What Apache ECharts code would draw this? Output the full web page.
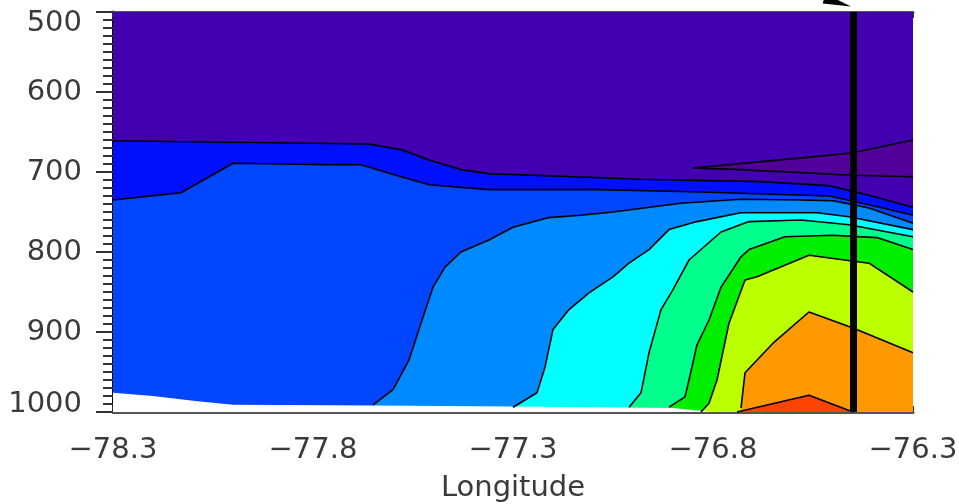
<!DOCTYPE html>
<html>
<head>
<meta charset="UTF-8">
<title>Longitude / pressure section</title>
<script src="https://cdn.jsdelivr.net/npm/echarts@6/dist/echarts.min.js"></script>
<style>
  html, body { margin: 0; padding: 0; background: #fff; }
  #main { width: 959px; height: 504px; }
</style>
</head>
<body>
<div id="main"></div>
<script>
// axes
const lonRange = [-78.3, -76.3];
const presRange = [500, 1000];
const lonTicks = [-78.3, -77.8, -77.3, -76.8, -76.3];
const probeLon = -76.45;

// contour lines as [longitude, pressure]
const c1 = [[-78.3, 661], [-77.66, 665], [-77.58, 672], [-77.51, 685], [-77.43, 697], [-77.36, 702],
  [-76.98, 709], [-76.68, 712], [-76.51, 717], [-76.41, 729], [-76.3, 744]];
const c2 = [[-78.3, 735], [-78.13, 726], [-78.0, 689], [-77.76, 691], [-77.68, 691], [-77.58, 706],
  [-77.51, 716], [-77.36, 722], [-77.08, 722], [-76.83, 725], [-76.51, 730], [-76.41, 741], [-76.3, 754]];
const c3 = [[-77.65, 991], [-77.6, 972], [-77.56, 935], [-77.53, 889], [-77.5, 844], [-77.47, 819],
  [-77.43, 800], [-77.36, 785], [-77.3, 769], [-77.21, 757], [-77.13, 754], [-77.05, 750],
  [-76.88, 739], [-76.73, 734], [-76.58, 735], [-76.5, 736], [-76.41, 745], [-76.3, 764]];
const c4 = [[-77.3, 994], [-77.24, 976], [-77.22, 944], [-77.2, 897], [-77.16, 872], [-77.11, 851],
  [-77.05, 831], [-77.01, 814], [-76.96, 797], [-76.91, 772], [-76.84, 762], [-76.73, 751],
  [-76.54, 751], [-76.46, 756], [-76.3, 772]];
const c5 = [[-77.01, 994], [-76.98, 976], [-76.96, 926], [-76.93, 872], [-76.9, 847], [-76.86, 810],
  [-76.78, 775], [-76.71, 762], [-76.58, 760], [-76.46, 766], [-76.3, 781]];
const c6 = [[-76.91, 994], [-76.87, 981], [-76.86, 960], [-76.84, 916], [-76.81, 885], [-76.78, 844],
  [-76.73, 806], [-76.71, 797], [-76.62, 781], [-76.5, 779], [-76.39, 782], [-76.3, 797]];
const c7 = [[-76.83, 1000], [-76.81, 989], [-76.79, 960], [-76.76, 889], [-76.72, 835], [-76.69, 831],
  [-76.56, 804], [-76.41, 814], [-76.3, 850]];
const c8 = [[-76.73, 995], [-76.72, 951], [-76.65, 914], [-76.56, 875], [-76.45, 895], [-76.3, 926]];
const c9 = [[-76.74, 1000], [-76.56, 979], [-76.45, 1000]];

// small dark tongue near 700 hPa on the right
const wedgeTop = [[-76.85, 695], [-76.57, 682], [-76.45, 676], [-76.3, 660]];
const wedgeBottom = [[-76.85, 695], [-76.73, 697], [-76.45, 704], [-76.3, 706]];

// lower edge of the data (ground), white below it
const surface = [[-78.3, 976], [-78.2, 980], [-78.1, 986], [-78.0, 991], [-77.65, 992], [-77.3, 993],
  [-76.9, 995], [-76.8, 1000], [-76.3, 1000]];

const arrowTail = [-76.56, 478];
const arrowTip = [-76.455, 493];

const bgColor = '#4200b0';
const bandColors = ['#0010ff', '#0046ff', '#008aff', '#00ffff', '#00ff8c', '#00ee00', '#bbff00', '#ff9900', '#ff4400'];
const wedgeColor = '#52009a';

const contours = [c1, c2, c3, c4, c5, c6, c7, c8, c9];

// close a contour against the bottom / side of the frame
function regionOf(line) {
  const pts = line.slice();
  const first = pts[0], last = pts[pts.length - 1];
  if (last[1] < presRange[1]) pts.push([last[0], presRange[1]]);
  if (first[1] < presRange[1]) pts.push([first[0], presRange[1]]);
  return pts;
}

const regions = [];
regions.push({ pts: [[lonRange[0], presRange[0]], [lonRange[1], presRange[0]], [lonRange[1], presRange[1]], [lonRange[0], presRange[1]]], color: bgColor });
contours.forEach(function (c, i) { regions.push({ pts: regionOf(c), color: bandColors[i] }); });
regions.push({ pts: wedgeTop.concat(wedgeBottom.slice(1).reverse()), color: wedgeColor });
regions.push({ pts: regionOf(surface), color: '#ffffff' });

const lineSeries = contours.concat([wedgeTop, wedgeBottom]).map(function (c) {
  return {
    type: 'line', data: c, symbol: 'none', z: 3, silent: true,
    lineStyle: { color: '#000', width: 1.6 }
  };
});
lineSeries[0].markLine = {
  silent: true, symbol: 'none', label: { show: false },
  lineStyle: { color: '#000', width: 7, type: 'solid' },
  data: [{ xAxis: probeLon }]
};

const labelFont = { fontFamily: 'DejaVu Sans', fontSize: 29, color: '#3a3a3a' };

var myChart = echarts.init(document.getElementById('main'));
option = {
  animation: false,
  backgroundColor: '#fff',
  grid: { left: 113, top: 12, width: 800, height: 400, outerBoundsMode: 'none', containLabel: false },
  xAxis: [{
    type: 'value', min: lonRange[0], max: lonRange[1], position: 'bottom',
    name: 'Longitude', nameLocation: 'middle', nameGap: 62,
    nameTextStyle: labelFont,
    axisLine: { show: true, lineStyle: { color: '#555', width: 3 } },
    axisTick: { show: true, inside: true, length: 6, customValues: lonTicks, lineStyle: { color: '#333', width: 2 } },
    axisLabel: Object.assign({ margin: 24, customValues: lonTicks,
      formatter: function (v) { return (v < 0 ? '\u2212' : '') + Math.abs(v).toFixed(1); } }, labelFont),
    splitLine: { show: false }
  }, {
    type: 'value', min: lonRange[0], max: lonRange[1], position: 'top',
    axisLine: { show: true, lineStyle: { color: '#555', width: 3 } },
    axisTick: { show: true, inside: true, length: 6, customValues: lonTicks, lineStyle: { color: '#333', width: 2 } },
    axisLabel: { show: false },
    splitLine: { show: false }
  }],
  yAxis: {
    type: 'value', inverse: true, min: presRange[0], max: presRange[1], interval: 100,
    axisLine: { show: true, lineStyle: { color: '#000', width: 3 } },
    axisTick: { show: true, length: 17, lineStyle: { color: '#333', width: 2 } },
    minorTick: { show: true, splitNumber: 10, length: 10, lineStyle: { color: '#333', width: 2 } },
    splitLine: { show: false },
    axisLabel: Object.assign({
      margin: 31,
      formatter: function (v) {
        if (v === presRange[0]) return '{a|' + v + '}';
        if (v === presRange[1]) return '{b|' + v + '}';
        return '' + v;
      },
      rich: {
        a: Object.assign({ padding: [22, 0, 0, 0] }, labelFont),
        b: Object.assign({ padding: [0, 0, 16, 0] }, labelFont)
      }
    }, labelFont)
  },
  series: [{
    type: 'custom', z: 1, silent: true,
    data: regions.map(function () { return [lonRange[0], presRange[0]]; }),
    renderItem: function (params, api) {
      const r = regions[params.dataIndex];
      return {
        type: 'polygon',
        shape: { points: r.pts.map(function (p) { return api.coord(p); }) },
        style: { fill: r.color }
      };
    }
  }].concat(lineSeries).concat([{
    type: 'custom', z: 5, silent: true, clip: false,
    data: [[arrowTip[0], arrowTip[1]]],
    renderItem: function (params, api) {
      const a = api.coord(arrowTail), b = api.coord(arrowTip);
      const dx = b[0] - a[0], dy = b[1] - a[1], len = Math.sqrt(dx * dx + dy * dy);
      const ux = dx / len, uy = dy / len, hl = 28, hw = 5;
      const bx = b[0] - ux * hl, by = b[1] - uy * hl;
      return {
        type: 'group', children: [
          { type: 'line', shape: { x1: a[0], y1: a[1], x2: bx, y2: by }, style: { stroke: '#000', lineWidth: 2 } },
          { type: 'polygon', shape: { points: [b, [bx - uy * hw, by + ux * hw], [bx + uy * hw, by - ux * hw]] }, style: { fill: '#000' } }
        ]
      };
    }
  }])
};
myChart.setOption(option);
</script>
</body>
</html>
